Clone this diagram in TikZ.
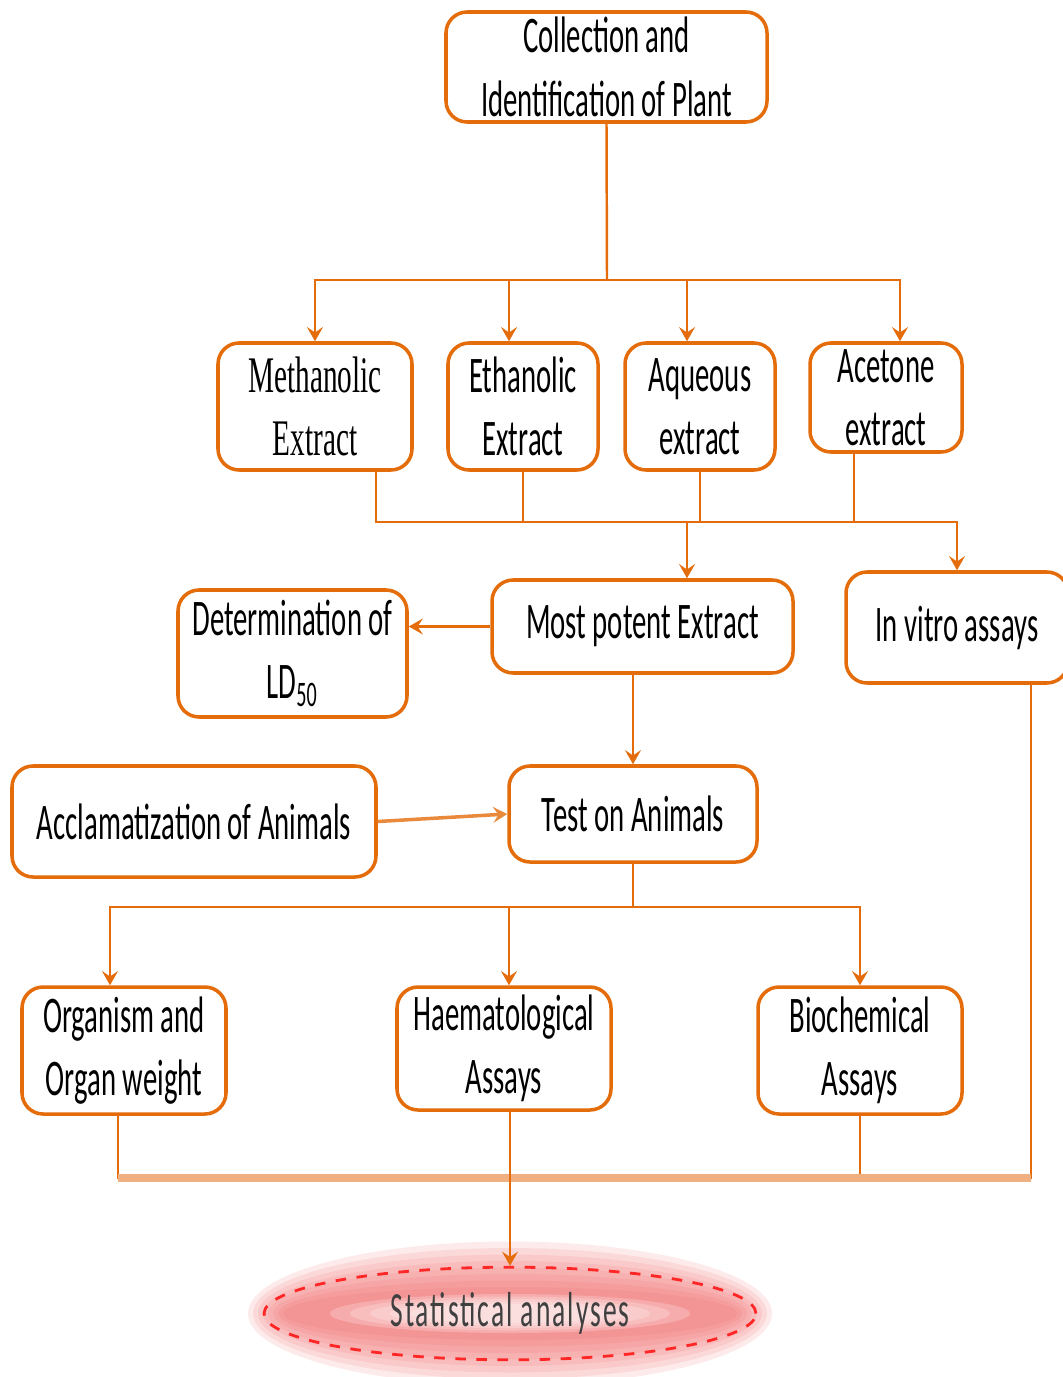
\documentclass[tikz,border=0pt]{standalone}
\usepackage{fontspec}
\setmainfont{Carlito}[FakeStretch=0.56]
\newfontfamily\narrowserif{Liberation Serif}[FakeStretch=0.57]
\usetikzlibrary{arrows.meta,shapes.geometric,backgrounds}
\definecolor{boxorange}{RGB}{228,108,10}
\definecolor{lightorange}{RGB}{240,176,128}
\definecolor{glowred}{RGB}{238,90,90}

\begin{document}
\begin{tikzpicture}[
    box/.style={draw=boxorange, line width=1pt, rounded corners=6pt, fill=white, align=center, inner sep=1pt, font=\fontsize{14.6}{18}\selectfont},
    link/.style={draw=boxorange, line width=0.7pt},
    arr/.style={link, -{Stealth[length=4pt,width=4.5pt,inset=1.5pt]}},
    joinline/.style={draw=lightorange, line width=2pt}
]
    \useasboundingbox (0,0) rectangle (10.63,-13.77);

    % Plant and extracts
    \node[box, minimum width=3.21cm, minimum height=1.10cm] (collect) at (6.065,-0.67) {Collection and\\Identification of Plant};
    \node[box, minimum width=1.94cm, minimum height=1.27cm] (methanol) at (3.15,-4.065) {\narrowserif Methanolic\\\narrowserif Extract};
    \node[box, minimum width=1.50cm, minimum height=1.27cm] (ethanol) at (5.23,-4.065) {Ethanolic\\Extract};
    \node[box, minimum width=1.50cm, minimum height=1.27cm] (aqueous) at (7.00,-4.065) {Aqueous\\extract};
    \node[box, minimum width=1.52cm, minimum height=1.09cm] (acetone) at (8.86,-3.975) {Acetone\\extract};

    % Extract screening
    \node[box, minimum width=3.01cm, minimum height=0.93cm] (potent) at (6.425,-6.265) {Most potent Extract};
    \node[box, minimum width=2.22cm, minimum height=1.11cm] (invitro) at (9.57,-6.275) {In vitro assays};
    \node[box, minimum width=2.29cm, minimum height=1.27cm] (ld) at (2.925,-6.535) {Determination of\\LD\textsubscript{50}};

    % Animal study
    \node[box, minimum width=2.48cm, minimum height=0.96cm] (test) at (6.33,-8.14) {Test on Animals};
    \node[box, minimum width=3.64cm, minimum height=1.11cm] (acclim) at (1.94,-8.215) {Acclamatization of Animals};
    \node[box, minimum width=2.04cm, minimum height=1.27cm] (organ) at (1.24,-10.505) {Organism and\\Organ weight};
    \node[box, minimum width=2.14cm, minimum height=1.23cm] (haem) at (5.04,-10.485) {Haematological\\Assays};
    \node[box, minimum width=2.04cm, minimum height=1.27cm] (bio) at (8.60,-10.505) {Biochemical\\Assays};

    % Final analysis
    \node[ellipse, draw=red!85, dashed, line width=0.8pt, minimum width=4.92cm, minimum height=0.83cm, text=black!75, font=\fontsize{14}{16}\selectfont\addfontfeature{LetterSpace=4}] (stat) at (5.10,-13.135) {Statistical analyses};
    \begin{scope}[on background layer]
        \foreach \k in {1,...,8}
            \fill[glowred, opacity=0.12] (stat.center) ellipse ({2.22+0.05*\k} and {0.20+0.065*\k});
        \foreach \k in {1,...,5}
            \fill[white, opacity=0.22] (stat.center) ellipse ({2.0-0.2*\k} and {0.22-0.025*\k});
    \end{scope}

    % Branch points
    \coordinate (topsplit) at (6.07,-2.80);
    \coordinate (midjoin) at (6.87,-5.22);
    \coordinate (lowsplit) at (6.33,-9.07);
    \coordinate (botjoin) at (5.09,-11.78);

    % Arrows to extracts
    \draw[link] (collect.south) -- (topsplit);
    \draw[arr] (topsplit) -| (methanol.north);
    \draw[arr] (topsplit) -| ([xshift=-0.14cm]ethanol.north);
    \draw[arr] (topsplit) -| ([xshift=-0.13cm]aqueous.north);
    \draw[arr] (topsplit) -| ([xshift=0.14cm]acetone.north);

    % Extracts collected
    \draw[link] ([xshift=0.61cm]methanol.south) |- (midjoin);
    \draw[link] (ethanol.south) -- (ethanol.south |- midjoin);
    \draw[link] (aqueous.south) -- (aqueous.south |- midjoin);
    \draw[link] ([xshift=-0.32cm]acetone.south) |- (midjoin);
    \draw[arr] (midjoin) -- (midjoin |- potent.north);
    \draw[arr] (midjoin) -| (invitro.north);

    % Most potent extract
    \draw[arr] (potent.west) -- (ld.east |- potent.west);
    \draw[arr] (potent.south -| test.north) -- (test.north);
    \draw[arr, line width=1pt, draw=boxorange!80] (acclim.east) -- (test.west);

    % Assays on animals
    \draw[link] (test.south) -- (lowsplit);
    \draw[arr] (lowsplit) -| ([xshift=-0.14cm]organ.north);
    \draw[arr] (lowsplit) -| ([xshift=0.05cm]haem.north);
    \draw[arr] (lowsplit) -| (bio.north);

    % Results gathered
    \draw[link] ([xshift=-0.06cm]organ.south) |- (botjoin);
    \draw[link] (bio.south) |- (botjoin);
    \draw[link] ([xshift=0.74cm]invitro.south) |- (botjoin);
    \draw[joinline] ([xshift=-0.06cm]organ.south |- botjoin) -- ([xshift=0.74cm]invitro.south |- botjoin);
    \draw[arr] (stat.north |- haem.south) -- (stat.north);
\end{tikzpicture}
\end{document}
